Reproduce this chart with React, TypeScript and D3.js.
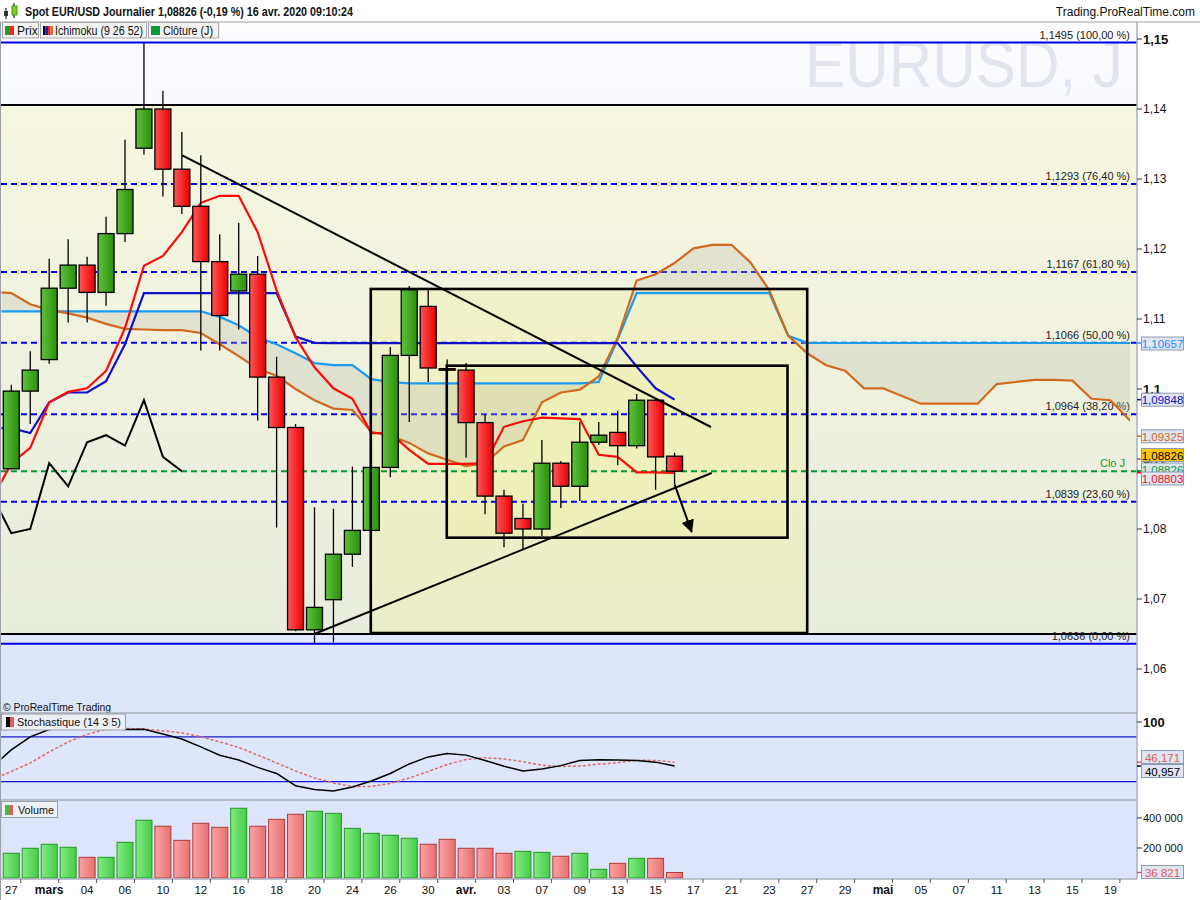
import React from 'react';
import * as d3 from 'd3';

// ---------------- DATA ----------------
const dateLabels = ['27','mars','04','06','10','12','16','18','20','24','26','30','avr.','03','07','09','13','15','17','21','23','27','29','mai','05','07','11','13','15','19'];
const monthLabels = ['mars','avr.','mai'];

const openPrices = [1.0886,1.0997,1.1042,1.1144,1.1177,1.1138,1.1222,1.1344,1.1400,1.1314,1.1261,1.1182,1.1140,1.1164,1.1017,1.0945,1.0656,1.0699,1.0764,1.0798,1.0888,1.1048,1.1118,1.1029,1.1027,1.0952,1.0847,1.0815,1.0800,1.0894,1.0861,1.0924,1.0938,1.0919,1.0984,1.0904];
const highPrices = [1.1006,1.1054,1.1186,1.1214,1.1189,1.1246,1.1356,1.1495,1.1426,1.1367,1.1334,1.1221,1.1237,1.1190,1.1046,1.0950,1.0831,1.0829,1.0889,1.0890,1.1060,1.1147,1.1142,1.1042,1.1037,1.0963,1.0856,1.0836,1.0927,1.0897,1.0953,1.0953,1.0969,1.0993,1.0987,1.0909];
const lowPrices = [1.0886,1.0950,1.1036,1.1095,1.1095,1.1119,1.1210,1.1335,1.1275,1.1250,1.1055,1.1055,1.1085,1.0955,1.0802,1.0654,1.0636,1.0638,1.0746,1.0797,1.0874,1.0953,1.1010,1.1027,1.0902,1.0821,1.0774,1.0770,1.0790,1.0830,1.0840,1.0920,1.0891,1.0915,1.0856,1.0864];
const closePrices = [1.0997,1.1027,1.1144,1.1177,1.1138,1.1222,1.1285,1.1400,1.1314,1.1261,1.1182,1.1105,1.1164,1.1017,1.0945,1.0656,1.0688,1.0764,1.0798,1.0888,1.1048,1.1142,1.1030,1.1027,1.0952,1.0847,1.0794,1.0800,1.0894,1.0861,1.0924,1.0934,1.0919,1.0984,1.0903,1.08826];

// Ichimoku series start one session before the first candle
const ichimokuStart = -1;
const tenkan = [1.0843,1.0894,1.0916,1.0981,1.0996,1.1001,1.1026,1.1087,1.1176,1.1190,1.1224,1.1266,1.1276,1.1276,1.1224,1.1141,1.1074,1.1031,1.1001,1.0986,1.0937,1.0937,1.0913,1.0893,1.0893,1.0893,1.0894,1.0946,1.0954,1.0959,1.0958,1.0957,1.0906,1.0903,1.0881,1.0881,1.08803];
const kijun = [1.0944,1.0944,1.0937,1.0981,1.0995,1.0995,1.1011,1.1064,1.1137,1.1137,1.1137,1.1137,1.1137,1.1137,1.1137,1.1137,1.1075,1.1066,1.10655,1.10655,1.10655,1.10655,1.10655,1.10655,1.10655,1.10655,1.10655,1.10655,1.10655,1.10655,1.10655,1.10655,1.10655,1.10655,1.1032,1.1001,1.09848];
const senkouA = [1.1139,1.1137,1.1121,1.1113,1.1108,1.1102,1.1093,1.1086,1.1085,1.1084,1.1084,1.1080,1.1064,1.1047,1.1029,1.1019,1.1000,1.0984,1.0972,1.0970,1.0939,1.0933,1.0923,1.0908,1.0899,1.0890,1.0894,1.0918,1.0927,1.0981,1.0995,1.0999,1.1018,1.1073,1.1155,1.1164,1.1180,1.1201,1.1206,1.1206,1.1181,1.1141,1.1076,1.1051,1.1034,1.1026,1.1001,1.1001,1.0990,1.0979,1.0979,1.0979,1.0979,1.1007,1.1010,1.1013,1.1013,1.1012,1.0986,1.0984,1.0956,1.0941,1.09325];
const senkouB = [1.1111,1.1111,1.1111,1.1111,1.1111,1.1111,1.1111,1.1111,1.1111,1.1111,1.1111,1.1111,1.1103,1.1091,1.1074,1.1064,1.1051,1.1037,1.1034,1.1034,1.1014,1.1010,1.1008,1.1008,1.1008,1.1008,1.1008,1.1008,1.1008,1.1008,1.1008,1.1008,1.1010,1.1071,1.1137,1.1137,1.1137,1.1137,1.1137,1.1137,1.1137,1.1137,1.1076,1.1066,1.10657,1.10657,1.10657,1.10657,1.10657,1.10657,1.10657,1.10657,1.10657,1.10657,1.10657,1.10657,1.10657,1.10657,1.10657,1.10657,1.10657,1.10657,1.10657];
const chikouShift = 26;

const volumes = [165000,198000,225000,205000,138000,138000,238000,385000,345000,251000,365000,338000,465000,345000,391000,425000,445000,431000,331000,298000,285000,265000,225000,258000,198000,198000,165000,178000,171000,145000,165000,58000,98000,131000,131000,36821];
const volumeUp = [1,1,1,1,0,1,1,1,0,0,0,0,1,0,0,0,1,1,1,1,1,1,0,0,0,0,0,1,1,0,1,1,0,1,0,0];

const stochStart = -1;
const stochK = [40.4,62.6,80,90,92,93,92,90,90.3,84,77.3,66.6,55.4,49.1,39.2,31,14.6,9.4,7.5,12.9,20.9,31,43.8,53.2,57.7,55.6,48.5,40.8,34.4,37,41.5,48.5,49.4,49.1,48.5,46.2,40.957];
const stochD = [23.6,33.7,45.1,59.9,73.3,83.4,90,91.4,90.5,88,85.4,80.4,73.3,65.8,55.8,45.1,34.4,25,18.3,13.6,13.6,17.6,25,33.7,43.1,49.8,52.1,50.5,46.8,42,40.4,41.1,43.4,45.4,48.7,48.5,46.171];
const stochBands = [80, 20];

const fibPrices = [1.1495,1.1293,1.1167,1.1066,1.0964,1.0839,1.0636];
const fibPercents = ['100,00','76,40','61,80','50,00','38,20','23,60','0,00'];

const priceTicks = [1.15,1.14,1.13,1.12,1.11,1.10,1.09,1.08,1.07,1.06];
const boldPriceTicks = [1.15,1.10];
const volumeTicks = [400000, 200000];

// drawings (in session index / price units)
const zoneBand = [1.14057, 1.0650];
const rectDrawings = [
  { i0: 18.97, i1: 42.0, p0: 1.11429, p1: 1.06514 },
  { i0: 22.98, i1: 40.96, p0: 1.10333, p1: 1.07876 },
];
const trendLines = [
  { i0: 9.02, p0: 1.13339, i1: 36.92, p1: 1.09457 },
  { i0: 15.99, p0: 1.0650, i1: 36.96, p1: 1.08800 },
];
const arrowDrawing = { i0: 35.0, p0: 1.08638, i1: 35.9, p1: 1.07961 };

// ---------------- CHART ----------------
const FONT = "'Liberation Sans', Arial, Helvetica, sans-serif";
const W = 1200, H = 900;
const AX = 1137; // right axis x
const PLOT_R = 1130;

function fmtPrice(v: number, d: number) {
  return v.toFixed(d).replace('.', ',');
}

function AxisBox({ yc, text, color, fill, tickY, tickColor }: any) {
  return (
    <g>
      <line x1={AX} x2={AX + 5} y1={tickY} y2={tickY} stroke={tickColor || color} strokeWidth={1.5} />
      <rect x={1141.5} y={yc - 6.5} width={42} height={13} fill={fill || '#dfe5f1'} stroke="#8d9bb3" strokeWidth={1} />
      <text x={1162.5} y={yc + 0.5} fill={color} fontSize={11.5} fontFamily={FONT} textAnchor="middle" dominantBaseline="central">{text}</text>
    </g>
  );
}

export default function App() {
  const x = d3.scaleLinear().domain([0, 58]).range([11.3, 1110.4]);
  const y = d3.scaleLinear().domain([1.06, 1.15]).range([669, 39]);
  const ys = d3.scaleLinear().domain([0, 100]).range([796.6, 722]);
  const yv = d3.scaleLinear().domain([0, 400000]).range([878, 818]);
  const bw = 16;

  const seriesLine = (start: number) =>
    d3.line<number>().x((_, k) => x(k + start)).y((v) => y(v));
  const stochLine = d3.line<number>().x((_, k) => x(k + stochStart)).y((v) => ys(v));

  const cloudArea = d3
    .area<number>()
    .x((_, k) => x(k + ichimokuStart))
    .y0((_, k) => y(senkouB[k]))
    .y1((v) => y(v));

  const chikouPts: [number, number][] = [];
  closePrices.forEach((c, j) => {
    if (j - chikouShift >= -1) chikouPts.push([x(j - chikouShift), y(c)]);
  });
  const chikouPath = d3.line()(chikouPts) || '';

  const lastClose = closePrices[closePrices.length - 1];

  return (
    <div style={{ position: 'absolute', left: 0, top: 0, width: W, height: H }}>
      <svg width={W} height={H} style={{ display: 'block', fontFamily: FONT }}>
        <defs>
          <linearGradient id="bgPrice" x1="0" x2="0" y1="0" y2="1">
            <stop offset="0%" stopColor="#fdfdff" />
            <stop offset="100%" stopColor="#dde5fa" />
          </linearGradient>
          <linearGradient id="gUp" x1="0" x2="1" y1="0" y2="0">
            <stop offset="0%" stopColor="#5cc23c" />
            <stop offset="100%" stopColor="#2c8e0c" />
          </linearGradient>
          <linearGradient id="gDn" x1="0" x2="1" y1="0" y2="0">
            <stop offset="0%" stopColor="#ff5656" />
            <stop offset="100%" stopColor="#e80000" />
          </linearGradient>
          <linearGradient id="vUp" x1="0" x2="1" y1="0" y2="0">
            <stop offset="0%" stopColor="#84ea84" />
            <stop offset="100%" stopColor="#46cc46" />
          </linearGradient>
          <linearGradient id="vDn" x1="0" x2="1" y1="0" y2="0">
            <stop offset="0%" stopColor="#f9a4a4" />
            <stop offset="100%" stopColor="#e87070" />
          </linearGradient>
          <clipPath id="pclip">
            <rect x={1.5} y={22} width={PLOT_R - 1.5} height={691} />
          </clipPath>
          <clipPath id="sclip">
            <rect x={1.5} y={713} width={PLOT_R - 1.5} height={87} />
          </clipPath>
          <marker id="arrowHead" viewBox="0 0 10 10" refX="9" refY="5" markerWidth="13" markerHeight="13" markerUnits="userSpaceOnUse" orient="auto">
            <path d="M0,0 L10,5 L0,10 z" fill="#000" />
          </marker>
        </defs>

        {/* page background */}
        <rect x={0} y={0} width={W} height={H} fill="#ffffff" />

        {/* ---------- price panel ---------- */}
        <rect x={0} y={22} width={AX} height={691} fill="url(#bgPrice)" />
        <rect x={0} y={y(zoneBand[0])} width={AX} height={y(zoneBand[1]) - y(zoneBand[0])} fill="#f4f3b6" opacity={0.42} />

        {/* watermark */}
        <text x={1123} y={87} textAnchor="end" fontSize={66} fill="#e2e4ee" textLength={318} lengthAdjust="spacingAndGlyphs">EURUSD, J</text>

        {/* rectangle drawings */}
        {rectDrawings.map((r, k) => (
          <rect key={k} x={x(r.i0)} y={y(r.p0)} width={x(r.i1) - x(r.i0)} height={y(r.p1) - y(r.p0)} fill="#f1f19a" fillOpacity={0.32} stroke="none" />
        ))}

        {/* fib lines */}
        {fibPrices.map((p, k) => {
          const solid = k === 0 || k === fibPrices.length - 1;
          return (
            <g key={k}>
              <line x1={1} x2={AX} y1={y(p)} y2={y(p)} stroke="#0000ee" strokeWidth={2} strokeDasharray={solid ? undefined : '6,4'} />
              <text x={PLOT_R} y={y(p) - 4} textAnchor="end" fontSize={11} fill="#222">
                {fmtPrice(p, 4)} ({fibPercents[k]} %)
              </text>
            </g>
          );
        })}

        {/* zone band black lines */}
        {zoneBand.map((p, k) => (
          <line key={k} x1={1} x2={AX} y1={y(p)} y2={y(p)} stroke="#000" strokeWidth={2} />
        ))}

        {/* close line */}
        <line x1={1} x2={AX} y1={y(lastClose)} y2={y(lastClose)} stroke="#009933" strokeWidth={2} strokeDasharray="6,4" />
        <text x={1125} y={y(lastClose) - 4} textAnchor="end" fontSize={11} fill="#0a9a3a">Clo J</text>

        <g clipPath="url(#pclip)">
          {/* cloud */}
          <path d={cloudArea(senkouA) || ''} fill="#b8b8a8" fillOpacity={0.28} />
          <path d={seriesLine(ichimokuStart)(senkouB) || ''} fill="none" stroke="#1a9cf0" strokeWidth={2.2} />
          <path d={seriesLine(ichimokuStart)(senkouA) || ''} fill="none" stroke="#d2691e" strokeWidth={2.2} />
          <path d={seriesLine(ichimokuStart)(kijun) || ''} fill="none" stroke="#1010c8" strokeWidth={2.2} />
          <path d={seriesLine(ichimokuStart)(tenkan) || ''} fill="none" stroke="#ff0a0a" strokeWidth={2.2} />
          <path d={chikouPath} fill="none" stroke="#000" strokeWidth={2} />

          {/* candles */}
          {closePrices.map((c, i) => {
            const o = openPrices[i];
            const up = c >= o;
            const top = y(Math.max(o, c));
            const h = Math.max(1.5, Math.abs(y(o) - y(c)));
            return (
              <g key={i}>
                <line x1={x(i)} x2={x(i)} y1={y(highPrices[i])} y2={y(lowPrices[i])} stroke="#000" strokeWidth={1.3} />
                <rect x={x(i) - bw / 2} y={top} width={bw} height={h} fill={up ? 'url(#gUp)' : 'url(#gDn)'} stroke="#000" strokeWidth={1.3} />
              </g>
            );
          })}

          {/* rectangle borders */}
          {rectDrawings.map((r, k) => (
            <rect key={k} x={x(r.i0)} y={y(r.p0)} width={x(r.i1) - x(r.i0)} height={y(r.p1) - y(r.p0)} fill="none" stroke="#000" strokeWidth={2.6} />
          ))}

          {/* trend lines */}
          {trendLines.map((t, k) => (
            <line key={k} x1={x(t.i0)} y1={y(t.p0)} x2={x(t.i1)} y2={y(t.p1)} stroke="#000" strokeWidth={2} />
          ))}
          <line x1={x(arrowDrawing.i0)} y1={y(arrowDrawing.p0)} x2={x(arrowDrawing.i1)} y2={y(arrowDrawing.p1)} stroke="#000" strokeWidth={2} markerEnd="url(#arrowHead)" />
        </g>

        <text x={3} y={711} fontSize={11} fill="#111" textLength={108} lengthAdjust="spacingAndGlyphs">© ProRealTime Trading</text>

        {/* ---------- stochastic panel ---------- */}
        <rect x={0} y={713} width={AX} height={87} fill="#dde6fb" />
        <line x1={0} x2={AX} y1={713} y2={713} stroke="#a9b0bd" strokeWidth={1.5} />
        {stochBands.map((b, k) => (
          <line key={k} x1={1} x2={AX} y1={ys(b)} y2={ys(b)} stroke="#1a1ad0" strokeWidth={1.2} />
        ))}
        <g clipPath="url(#sclip)">
          <path d={stochLine(stochD) || ''} fill="none" stroke="#e06a6a" strokeWidth={1.5} strokeDasharray="3,2" />
          <path d={stochLine(stochK) || ''} fill="none" stroke="#000" strokeWidth={1.5} />
        </g>
        <rect x={1.5} y={714} width={124} height={16} fill="#edf0f5" stroke="#9aa0aa" strokeWidth={1} />
        <rect x={6} y={717} width={4} height={10} fill="#000" />
        <rect x={10} y={717} width={4} height={10} fill="#e45c5c" />
        <text x={17} y={726} fontSize={11} fill="#111" textLength={104} lengthAdjust="spacingAndGlyphs">Stochastique (14 3 5)</text>

        {/* ---------- volume panel ---------- */}
        <rect x={0} y={800} width={AX} height={79} fill="#dce5fb" />
        <line x1={0} x2={AX} y1={800} y2={800} stroke="#a9b0bd" strokeWidth={1.5} />
        {volumes.map((v, i) => (
          <rect key={i} x={x(i) - bw / 2} y={yv(v)} width={bw} height={yv(0) - yv(v)}
            fill={volumeUp[i] ? 'url(#vUp)' : 'url(#vDn)'} stroke={volumeUp[i] ? '#229922' : '#b23a3a'} strokeWidth={1} />
        ))}
        <rect x={1.5} y={801.5} width={56} height={16} fill="#edf0f5" stroke="#9aa0aa" strokeWidth={1} />
        <rect x={5} y={805} width={4} height={10} fill="#3cc43c" />
        <rect x={9} y={805} width={4} height={10} fill="#e45c5c" />
        <text x={18} y={814} fontSize={11} fill="#111" textLength={36} lengthAdjust="spacingAndGlyphs">Volume</text>

        {/* ---------- date axis ---------- */}
        <rect x={0} y={879} width={W} height={21} fill="#ffffff" />
        <line x1={0} x2={AX} y1={879} y2={879} stroke="#a9b0bd" strokeWidth={1.5} />
        {dateLabels.map((lab, k) => {
          const i = k * 2;
          const isMonth = monthLabels.includes(lab);
          return (
            <g key={k}>
              <line x1={x(i) + 9.5} x2={x(i) + 9.5} y1={879} y2={883} stroke="#555" strokeWidth={1} />
              <text x={x(i)} y={894} textAnchor="middle" fontSize={isMonth ? 12 : 11.5} fontWeight={isMonth ? 'bold' : 'normal'} fill="#111">{lab}</text>
            </g>
          );
        })}

        {/* ---------- right axis ---------- */}
        <rect x={AX} y={22} width={W - AX} height={857} fill="#ffffff" />
        <line x1={AX} x2={AX} y1={22} y2={879} stroke="#a7b0c0" strokeWidth={1.5} />
        {priceTicks.map((p, k) => (
          <g key={k}>
            <line x1={AX} x2={AX + 5} y1={y(p)} y2={y(p)} stroke="#333" strokeWidth={1} />
            <text x={1143} y={y(p)} dominantBaseline="central" fontSize={boldPriceTicks.includes(p) ? 13 : 12}
              fontWeight={boldPriceTicks.includes(p) ? 'bold' : 'normal'} fill="#111">{String(+p.toFixed(2)).replace('.', ',')}</text>
          </g>
        ))}
        <AxisBox yc={343.5} tickY={y(senkouB[senkouB.length - 1])} text={fmtPrice(senkouB[senkouB.length - 1], 5)} color="#1e90ff" />
        <AxisBox yc={399.7} tickY={y(kijun[kijun.length - 1])} text={fmtPrice(kijun[kijun.length - 1], 5)} color="#1010c8" />
        <AxisBox yc={436.3} tickY={y(senkouA[senkouA.length - 1])} text={fmtPrice(senkouA[senkouA.length - 1], 5)} color="#d2691e" />
        <AxisBox yc={455} tickY={y(lastClose)} text={fmtPrice(lastClose, 5)} color="#000" fill="#ffc400" />
        <AxisBox yc={469.5} tickY={y(lastClose)} text={fmtPrice(lastClose, 5)} color="#0a9a3a" tickColor="#0a9a3a" />
        <AxisBox yc={478.5} tickY={y(tenkan[tenkan.length - 1])} text={fmtPrice(tenkan[tenkan.length - 1], 5)} color="#ee1111" />

        {/* stoch axis */}
        <line x1={AX} x2={AX + 5} y1={ys(100)} y2={ys(100)} stroke="#333" strokeWidth={1} />
        <text x={1143} y={ys(100)} dominantBaseline="central" fontSize={13} fontWeight="bold" fill="#111">100</text>
        <AxisBox yc={757} tickY={ys(stochD[stochD.length - 1])} text={fmtPrice(stochD[stochD.length - 1], 3)} color="#e05a5a" />
        <AxisBox yc={771} tickY={ys(stochK[stochK.length - 1])} text={fmtPrice(stochK[stochK.length - 1], 3)} color="#000" />

        {/* volume axis */}
        {volumeTicks.map((v, k) => (
          <g key={k}>
            <line x1={AX} x2={AX + 5} y1={yv(v)} y2={yv(v)} stroke="#333" strokeWidth={1} />
            <text x={1143} y={yv(v)} dominantBaseline="central" fontSize={11} fill="#111">{d3.format(',')(v).replace(/,/g, ' ')}</text>
          </g>
        ))}
        <AxisBox yc={872} tickY={yv(volumes[volumes.length - 1])} text={d3.format(',')(volumes[volumes.length - 1]).replace(/,/g, ' ')} color="#e05a5a" />

        {/* ---------- header ---------- */}
        <rect x={0} y={0} width={W} height={22} fill="#ffffff" />
        <line x1={0} x2={W} y1={22} y2={22} stroke="#a0a0a0" strokeWidth={1} />
        <line x1={6} x2={6} y1={8} y2={19} stroke="#000" strokeWidth={1} />
        <rect x={4} y={11} width={4} height={5} fill="#333" />
        <line x1={14} x2={14} y1={3} y2={18} stroke="#000" strokeWidth={1} />
        <rect x={12} y={6} width={5} height={9} fill="#7ed321" stroke="#3a7a10" strokeWidth={0.8} />
        <text x={25} y={16} fontSize={12.5} fontWeight="bold" fill="#111" textLength={328} lengthAdjust="spacingAndGlyphs">
          Spot EUR/USD Journalier 1,08826 (-0,19 %) 16 avr. 2020 09:10:24
        </text>
        <text x={1195} y={16} textAnchor="end" fontSize={12} fill="#111">Trading.ProRealTime.com</text>

        {/* legend row */}
        <rect x={0} y={22} width={220} height={16} fill="#f0f0f0" />
        <rect x={2.5} y={22.5} width={36} height={15.5} fill="#f2f2f2" stroke="#a8a8a8" />
        <rect x={5} y={26} width={5} height={9} fill="#1aa01a" />
        <rect x={10} y={26} width={4} height={9} fill="#ff2020" />
        <text x={17} y={34.5} fontSize={12} fill="#111">Prix</text>
        <rect x={40.5} y={22.5} width={106} height={15.5} fill="#f2f2f2" stroke="#a8a8a8" />
        <rect x={43} y={26} width={2.5} height={9} fill="#000" />
        <rect x={45.5} y={26} width={2.5} height={9} fill="#1a1ad0" />
        <rect x={48} y={26} width={2.5} height={9} fill="#ff2020" />
        <rect x={50.5} y={26} width={2.5} height={9} fill="#e07020" />
        <text x={55} y={34.5} fontSize={12} fill="#111" textLength={88} lengthAdjust="spacingAndGlyphs">Ichimoku (9 26 52)</text>
        <rect x={148.5} y={22.5} width={70} height={15.5} fill="#f2f2f2" stroke="#a8a8a8" />
        <rect x={151} y={26} width={9} height={9} fill="#0a9a3a" />
        <text x={163} y={34.5} fontSize={12} fill="#111" textLength={50} lengthAdjust="spacingAndGlyphs">Clôture (J)</text>

        {/* left border */}
        <line x1={0.5} x2={0.5} y1={22} y2={900} stroke="#9aa0aa" strokeWidth={1} />
      </svg>
    </div>
  );
}
